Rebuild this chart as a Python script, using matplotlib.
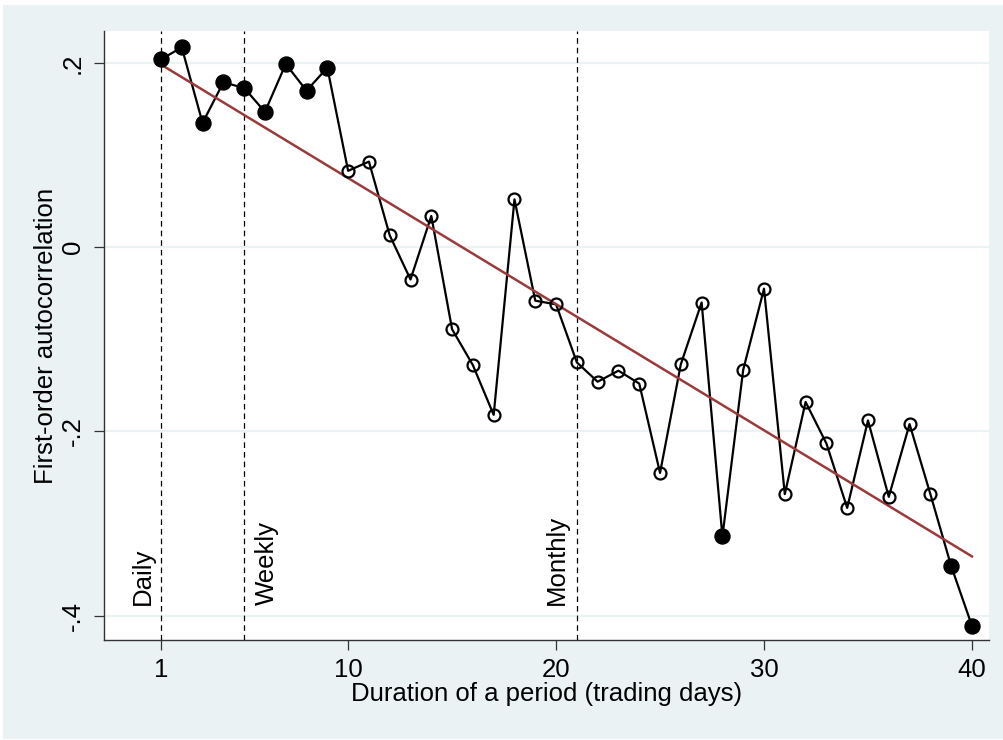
import numpy as np
import matplotlib
matplotlib.use("Agg")
import matplotlib.pyplot as plt
from matplotlib.patches import Rectangle

plt.rcParams['font.family'] = ['Liberation Sans', 'DejaVu Sans']

# ---- data ----
duration = list(range(1, 41))
autocorr = [0.204, 0.217, 0.135, 0.179, 0.173, 0.147, 0.199, 0.170, 0.195, 0.083,
            0.093, 0.013, -0.035, 0.034, -0.089, -0.128, -0.182, 0.052, -0.058, -0.062,
            -0.125, -0.146, -0.134, -0.148, -0.245, -0.127, -0.060, -0.314, -0.133, -0.045,
            -0.268, -0.168, -0.213, -0.283, -0.188, -0.271, -0.192, -0.268, -0.346, -0.411]
significant = [1, 1, 1, 1, 1, 1, 1, 1, 1, 0,
               0, 0, 0, 0, 0, 0, 0, 0, 0, 0,
               0, 0, 0, 0, 0, 0, 0, 1, 0, 0,
               0, 0, 0, 0, 0, 0, 0, 0, 1, 1]
ref_lines = [1, 5, 21]
ref_labels = ["Daily", "Weekly", "Monthly"]
xticks = [1, 10, 20, 30, 40]
yticks = [0.2, 0.0, -0.2, -0.4]
ytick_labels = [".2", "0", "-.2", "-.4"]

x = np.array(duration, dtype=float)
y = np.array(autocorr)
sig = np.array(significant, dtype=bool)
slope, intercept = np.polyfit(x, y, 1)
fit_x = np.array([x.min(), x.max()])
fit_y = intercept + slope * fit_x

BG = "#EAF2F3"
FS = 18.5
fig = plt.figure(figsize=(10.04, 7.4), dpi=100)
fig.patch.set_facecolor("white")
fig.patches.append(Rectangle((3 / 1004, 1 / 740), 1 - 3 / 1004, 1 - 6 / 740,
                             transform=fig.transFigure, facecolor=BG,
                             edgecolor="none", zorder=-10))

ax = fig.add_axes([104 / 1004, 1 - 640 / 740, (989 - 104) / 1004, (640 - 31) / 740])
ax.set_facecolor("white")
ax.set_xlim(-1.74, 40.82)
ax.set_ylim(-0.4264, 0.2348)

for yt in yticks:
    ax.axhline(yt, color=BG, lw=1.6, zorder=0)

# label placement: (ha, pixel offset from line)
label_place = [("right", -6), ("left", 11), ("right", -8)]
for xv, lab, (ha, off) in zip(ref_lines, ref_labels, label_place):
    ax.axvline(xv, color="black", lw=0.9, linestyle=(0, (4.5, 3.2)), zorder=1)
    ax.annotate(lab, xy=(xv, -0.388), xytext=(off * 0.72, 0),
                textcoords="offset points", rotation=90, ha=ha, va="bottom",
                fontsize=FS, color="black")

ax.plot(x, y, color="black", lw=1.6, zorder=3)
ax.plot(fit_x, fit_y, color="#9A3A3A", lw=1.8, zorder=4)
ax.plot(x[sig], y[sig], 'o', color="black", markersize=10.8, zorder=5, linestyle="none")
ax.plot(x[~sig], y[~sig], 'o', markerfacecolor="none", markeredgecolor="black",
        markeredgewidth=1.6, markersize=8.6, zorder=5, linestyle="none")

for s in ["top", "right"]:
    ax.spines[s].set_visible(False)
for s in ["left", "bottom"]:
    ax.spines[s].set_color("#333333")
    ax.spines[s].set_linewidth(1.0)

ax.set_xticks(xticks)
ax.set_xticklabels([str(t) for t in xticks])
ax.set_yticks(yticks)
ax.set_yticklabels(ytick_labels, rotation=90, va="center")
ax.tick_params(axis="both", length=7, width=0.9, color="#333333", labelsize=FS,
               labelcolor="black")
ax.tick_params(axis="x", pad=6)
ax.tick_params(axis="y", pad=7)

ax.set_xlabel("Duration of a period (trading days)", fontsize=FS, labelpad=0)
ax.set_ylabel("First-order autocorrelation", fontsize=FS, labelpad=2)

fig.savefig("out.png", dpi=100, facecolor=fig.get_facecolor())
